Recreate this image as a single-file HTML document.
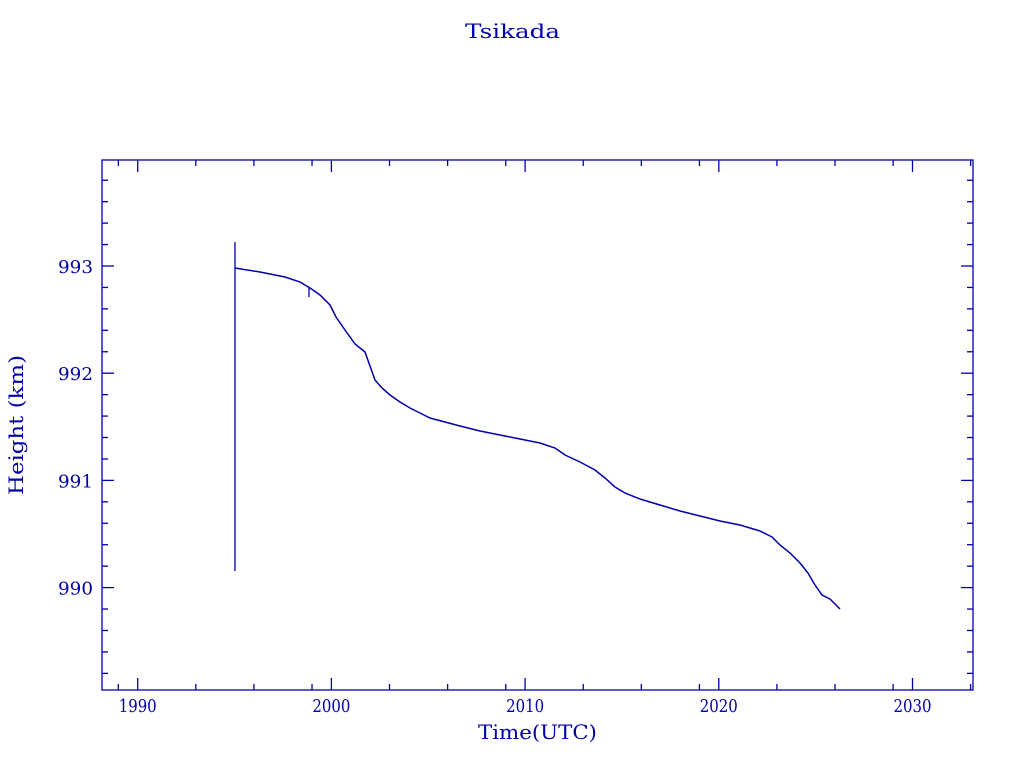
<!DOCTYPE html>
<html><head><style>
body{margin:0;background:#fff;width:1024px;height:768px;overflow:hidden}
text{font-family:"DejaVu Serif","Liberation Serif",serif;fill:#0000a8}
</style></head><body>
<svg id="s" width="1024" height="768" xmlns="http://www.w3.org/2000/svg">
<text x="465" y="38" font-size="20" textLength="95" lengthAdjust="spacingAndGlyphs">Tsikada</text>
<text x="478" y="739" font-size="20" textLength="119" lengthAdjust="spacingAndGlyphs">Time(UTC)</text>
<text transform="translate(23,495) rotate(-90)" font-size="20" textLength="140" lengthAdjust="spacingAndGlyphs">Height (km)</text>
<rect x="102" y="160" width="871" height="530" fill="none" stroke="#0000a8" stroke-width="1.3"/>
<g id="t" stroke="#0000a8" stroke-width="1.3"></g>
<line x1="235" y1="242" x2="235" y2="571" stroke="#0000a8" stroke-width="1.3"/>
<line x1="309" y1="287" x2="309" y2="297" stroke="#0000a8" stroke-width="1.3"/>
<polyline fill="none" stroke="#0000a8" stroke-width="1.5" points="235,268 260,272 285,277 300,282 310,288 320,295 330,305 336,317 345,330 355,344 365,352 370,366 375,380 382,388 390,395 400,402 410,408 420,413 430,418 445,422 460,426 480,431 500,435 520,439 540,443 555,448 565,455 580,462 595,470 605,478 615,487 625,493 640,499 660,505 680,511 700,516 720,521 740,525 760,531 772,537 780,545 790,553 800,563 808,573 815,585 822,595 830,599 835,604 840,609"/>
</svg>
<script>
var g=document.getElementById('t'),s=document.getElementById('s'),ns="http://www.w3.org/2000/svg";
function L(a,b,c,d){var l=document.createElementNS(ns,'line');l.setAttribute('x1',a);l.setAttribute('y1',b);l.setAttribute('x2',c);l.setAttribute('y2',d);g.appendChild(l);}
function T(x,y,t,w){var e=document.createElementNS(ns,'text');e.setAttribute('x',x);e.setAttribute('y',y);e.setAttribute('font-size','18');e.setAttribute('textLength',w);e.setAttribute('lengthAdjust','spacingAndGlyphs');e.textContent=t;s.appendChild(e);}
function X(yr){return 137.7+(yr-1990)*19.37;}
for(var yr=1989;yr<=2033;yr++){var x=X(yr);if(x<102||x>973)continue;var m=yr%10;
 if(m==0){L(x,690,x,678);L(x,160,x,172);T(x-19,712,yr,38);}
 else if(m%3==0){L(x,690,x,684);L(x,160,x,166);}}
function Y(v){return 266-(v-993)*107.2;}
for(var i=-60;i<=30;i++){var v=990+i*0.2;var y=Y(v);if(y<160||y>690)continue;
 if(i%5==0){L(102,y,114,y);L(973,y,961,y);T(58,y+7,Math.round(v),35);}
 else{L(102,y,108,y);L(973,y,967,y);}}
</script>
</body></html>
